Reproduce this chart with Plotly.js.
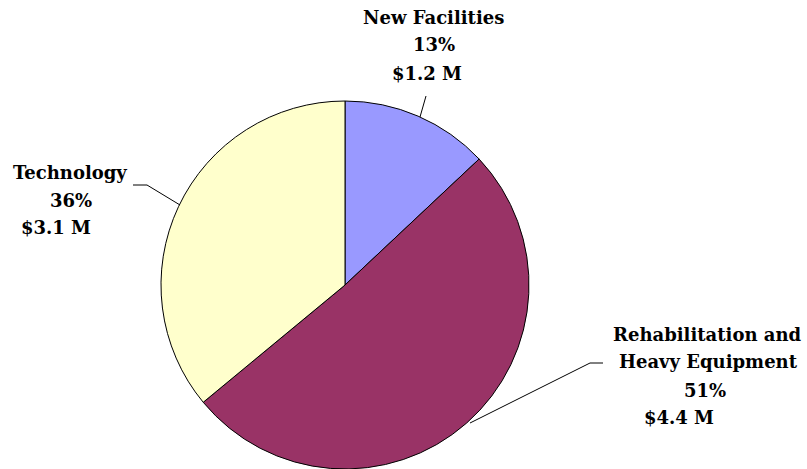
<!DOCTYPE html>
<html>
<head>
<meta charset="utf-8">
<script src="https://cdn.plot.ly/plotly-3.0.1.min.js"></script>
<style>html,body{margin:0;padding:0;background:#fff;}</style>
</head>
<body>
<div id="chart" style="width:807px;height:469px;"></div>
<script>
// Data
var categories = ["New Facilities", "Rehabilitation and Heavy Equipment", "Technology"];
var labelLines = [["New Facilities"], ["Rehabilitation and", "Heavy Equipment"], ["Technology"]];
var shares = [13, 51, 36];            // percent
var amounts = [1.2, 4.4, 3.1];        // $ millions
var colors = ["#9999FF", "#993366", "#FFFFCC"];

var W = 807, H = 469;
function px(x){ return x / W; }
function py(y){ return 1 - y / H; }

// Label layout (pixel anchors for each text line, per category)
var labelPos = [
  {lines: [[433, 17], [434, 45]], amount: [427, 74]},
  {lines: [[707, 334], [708, 361]], pct: [705, 390], amount: [679, 417]},
  {lines: [[70, 172]], pct: [71, 200], amount: [56, 227]}
];
// leader lines (pixel polylines)
var leaders = [
  [[426, 96], [420, 117]],
  [[603, 363], [590, 363], [470, 423]],
  [[133, 185], [147, 185], [180, 205]]
];

var font = {family: "DejaVu Serif", size: 18, color: "#000", weight: "bold"};
var annotations = [];
function addText(t, p){
  annotations.push({text: t, x: px(p[0]), y: py(p[1]), xref: "paper", yref: "paper",
    xanchor: "center", yanchor: "middle", showarrow: false, font: font});
}
// New Facilities: name, pct, amount
addText(labelLines[0][0], labelPos[0].lines[0]);
addText(shares[0] + "%", labelPos[0].lines[1]);
addText("$" + amounts[0].toFixed(1) + " M", labelPos[0].amount);
// Rehab
addText(labelLines[1][0], labelPos[1].lines[0]);
addText(labelLines[1][1], labelPos[1].lines[1]);
addText(shares[1] + "%", labelPos[1].pct);
addText("$" + amounts[1].toFixed(1) + " M", labelPos[1].amount);
// Technology
addText(labelLines[2][0], labelPos[2].lines[0]);
addText(shares[2] + "%", labelPos[2].pct);
addText("$" + amounts[2].toFixed(1) + " M", labelPos[2].amount);

var shapes = leaders.map(function(pts){
  var d = pts.map(function(p, i){ return (i ? "L" : "M") + px(p[0]) + "," + py(p[1]); }).join(" ");
  return {type: "path", xref: "paper", yref: "paper", path: d, line: {color: "#000", width: 1}};
});

var trace = {
  type: "pie",
  labels: categories,
  values: shares,
  sort: false,
  direction: "clockwise",
  rotation: 0,
  textinfo: "none",
  hoverinfo: "none",
  marker: {colors: colors, line: {color: "#000", width: 1}},
  domain: {x: [px(161), px(529)], y: [0, py(101)]},
  showlegend: false
};

Plotly.newPlot("chart", [trace], {
  width: W, height: H,
  margin: {l: 0, r: 0, t: 0, b: 0},
  paper_bgcolor: "#fff",
  plot_bgcolor: "#fff",
  showlegend: false,
  annotations: annotations,
  shapes: shapes
}, {staticPlot: true});
</script>
</body>
</html>
